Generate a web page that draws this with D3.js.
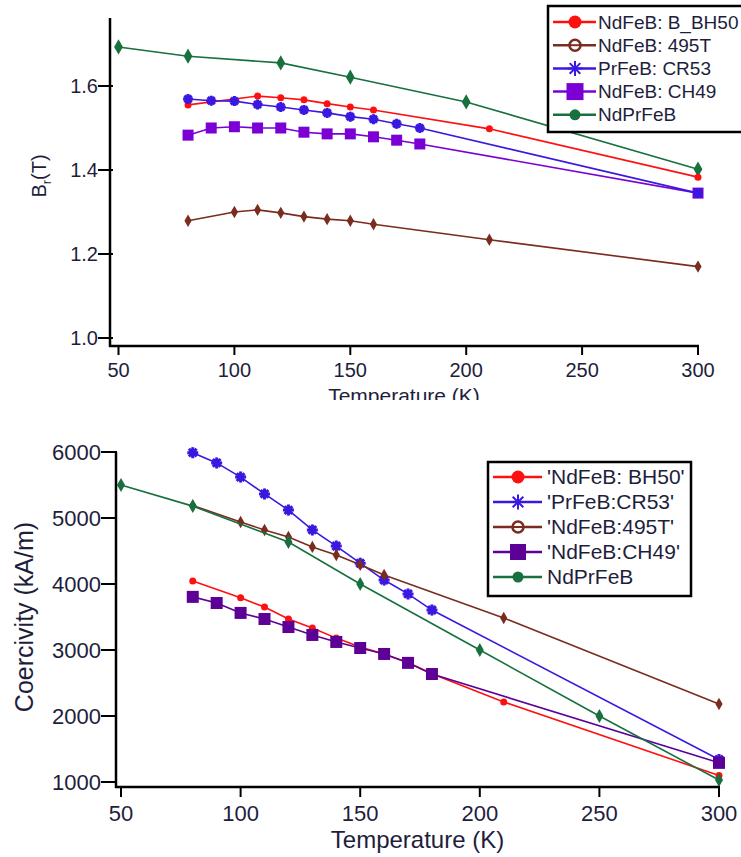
<!DOCTYPE html>
<html><head><meta charset="utf-8">
<script src="https://cdn.jsdelivr.net/npm/d3@7"></script>
<style>
html,body{margin:0;padding:0;background:#fff;}
svg{display:block;font-family:"Liberation Sans",Arial,sans-serif;}
</style></head>
<body><svg id="c" width="741" height="857"></svg>
<script>
// ---------------- DATA: top panel (remanence Br, T) ----------------
const topXTicks = [50,100,150,200,250,300];
const topYTicks = [1.0,1.2,1.4,1.6];
const topLegend = ["NdFeB: B_BH50","NdFeB: 495T","PrFeB: CR53","NdFeB: CH49","NdPrFeB"];

const tBH50 = [80,110,120,130,140,150,160,210,300];
const brBH50 = [1.555,1.576,1.572,1.567,1.558,1.550,1.543,1.498,1.383];
const t495T = [80,100,110,120,130,140,150,160,210,300];
const br495T = [1.279,1.300,1.305,1.298,1.289,1.283,1.279,1.271,1.234,1.170];
const tCR53 = [80,90,100,110,120,130,140,150,160,170,180,300];
const brCR53 = [1.569,1.565,1.564,1.556,1.550,1.543,1.536,1.527,1.521,1.510,1.500,1.345];
const tCH49 = [80,90,100,110,120,130,140,150,160,170,180,300];
const brCH49 = [1.483,1.500,1.503,1.500,1.500,1.490,1.486,1.486,1.479,1.471,1.462,1.345];
const tNdPr = [50,80,120,150,200,300];
const brNdPr = [1.693,1.671,1.655,1.621,1.562,1.402];

// ---------------- DATA: bottom panel (coercivity, kA/m) ----------------
const botXTicks = [50,100,150,200,250,300];
const botYTicks = [1000,2000,3000,4000,5000,6000];
const botLegend = ["'NdFeB: BH50'","'PrFeB:CR53'","'NdFeB:495T'","'NdFeB:CH49'","NdPrFeB"];

const hBH50T = [80,100,110,120,130,140,150,160,170,180,210,300];
const hBH50 = [4045,3790,3650,3470,3335,3180,3045,2940,2810,2640,2212,1100];
const hCR53T = [80,90,100,110,120,130,140,150,160,170,180,300];
const hCR53 = [5990,5835,5620,5365,5120,4820,4575,4315,4060,3850,3605,1340];
const h495TT = [80,100,110,120,130,140,150,160,210,300];
const h495T = [5190,4940,4818,4712,4562,4440,4290,4136,3485,2182];
const hCH49T = [80,90,100,110,120,130,140,150,160,170,180,300];
const hCH49 = [3805,3712,3562,3470,3348,3228,3122,3030,2940,2805,2636,1290];
const hNdPrT = [50,80,120,150,200,250,300];
const hNdPr = [5500,5180,4636,4000,3000,2000,1030];

// ---------------- styles ----------------
const C = {red:"#ff1010", brown:"#7a2c1e", blue:"#3b18e0", purpleTop:"#7b00d4", purpleBot:"#5c0096", green:"#18703e"};
const TXT = "#1e1e3c";

const svg = d3.select("#c");

function asteriskPath(s){
  const r=s/2, d=r*0.707;
  return `M${-r},0L${r},0M0,${-r}L0,${r}M${-d},${-d}L${d},${d}M${-d},${d}L${d},${-d}`;
}
function drawMarker(g, type, color, x, y, size, legend){
  if(type==="circle"){
    g.append("circle").attr("cx",x).attr("cy",y).attr("r",size/2).attr("fill",color);
  } else if(type==="ocircle"){
    g.append("circle").attr("cx",x).attr("cy",y).attr("r",size/2).attr("fill","#fff").attr("stroke",color).attr("stroke-width",2.5);
    g.append("line").attr("x1",x-size/2).attr("x2",x+size/2).attr("y1",y).attr("y2",y).attr("stroke",color).attr("stroke-width",2);
  } else if(type==="diamond"){
    g.append("path").attr("transform",`translate(${x},${y})`).attr("d",d3.symbol(d3.symbolDiamond, size*size*0.55)()).attr("fill",color);
  } else if(type==="square"){
    g.append("rect").attr("x",x-size/2).attr("y",y-size/2).attr("width",size).attr("height",size).attr("fill",color);
  } else if(type==="asterisk"){
    g.append("path").attr("transform",`translate(${x},${y})`).attr("d",asteriskPath(size)).attr("stroke",color).attr("stroke-width",legend?2:3).attr("fill","none");
    if(!legend) g.append("path").attr("transform",`translate(${x},${y})`).attr("d",d3.symbol(d3.symbolDiamond, size*size*0.3)()).attr("fill",color);
  }
}

function series(g, xs, ys, X, Y, color, type, size){
  const pts = xs.map((t,i)=>[X(t),Y(ys[i])]);
  g.append("path").attr("d",d3.line()(pts)).attr("fill","none").attr("stroke",color).attr("stroke-width",1.6);
  pts.forEach(p=>drawMarker(g,type,color,p[0],p[1],size,false));
}

// ================= TOP PANEL =================
{
  const clipId="clipTop";
  svg.append("defs").append("clipPath").attr("id",clipId).append("rect").attr("x",0).attr("y",0).attr("width",741).attr("height",400);
  const g = svg.append("g").attr("clip-path",`url(#${clipId})`);
  const X = d3.scaleLinear().domain([50,300]).range([118.5,698]);
  const Y = d3.scaleLinear().domain([1.0,1.6]).range([338,86]);
  const x0 = 110, yb = 346, yt = 18;

  series(g,t495T,br495T,X,Y,C.brown,"diamond",9);
  series(g,tNdPr,brNdPr,X,Y,C.green,"diamond",11);
  series(g,tBH50,brBH50,X,Y,C.red,"circle",7);
  series(g,tCH49,brCH49,X,Y,C.purpleTop,"square",11);
  series(g,tCR53,brCR53,X,Y,C.blue,"asterisk",10);

  // axes
  g.append("line").attr("x1",x0).attr("x2",x0).attr("y1",yt).attr("y2",yb+1).attr("stroke","#000").attr("stroke-width",2.5);
  g.append("line").attr("x1",x0-1).attr("x2",X(300)+1).attr("y1",yb).attr("y2",yb).attr("stroke","#000").attr("stroke-width",2.5);
  topYTicks.forEach(v=>{
    g.append("line").attr("x1",x0-12).attr("x2",x0+3).attr("y1",Y(v)).attr("y2",Y(v)).attr("stroke","#000").attr("stroke-width",2);
    g.append("text").attr("x",x0-12).attr("y",Y(v)).attr("dy","0.35em").attr("text-anchor","end").attr("font-size",20).attr("fill",TXT).text(d3.format(".1f")(v));
  });
  topXTicks.forEach(v=>{
    g.append("line").attr("x1",X(v)).attr("x2",X(v)).attr("y1",yb).attr("y2",yb+9).attr("stroke","#000").attr("stroke-width",2);
    g.append("text").attr("x",X(v)).attr("y",yb+31).attr("text-anchor","middle").attr("font-size",20).attr("fill",TXT).text(v);
  });
  g.append("text").attr("x",(x0+X(300))/2).attr("y",yb+57).attr("text-anchor","middle").attr("font-size",21).attr("fill",TXT).text("Temperature (K)");
  const yl = g.append("text").attr("transform","translate(46,176) rotate(-90)").attr("text-anchor","middle").attr("font-size",20).attr("fill",TXT);
  yl.append("tspan").text("B");
  yl.append("tspan").attr("font-size",13).attr("dy",5).text("r");
  yl.append("tspan").attr("dy",-5).text("(T)");

  // legend
  const lg = g.append("g");
  lg.append("rect").attr("x",548).attr("y",6).attr("width",210).attr("height",126).attr("fill","#fff").attr("stroke","#000").attr("stroke-width",2.5);
  const lt = [["circle",C.red,13],["ocircle",C.brown,11],["asterisk",C.blue,15],["square",C.purpleTop,17],["circle",C.green,11]];
  topLegend.forEach((name,i)=>{
    const y = 22 + i*23.2;
    lg.append("line").attr("x1",553).attr("x2",596).attr("y1",y).attr("y2",y).attr("stroke",lt[i][1]).attr("stroke-width",2.5);
    drawMarker(lg,lt[i][0],lt[i][1],575,y,lt[i][2],true);
    lg.append("text").attr("x",598).attr("y",y).attr("dy","0.35em").attr("font-size",19).attr("fill",TXT).text(name);
  });
}

// ================= BOTTOM PANEL =================
{
  const g = svg.append("g");
  const X = d3.scaleLinear().domain([50,300]).range([121,719]);
  const Y = d3.scaleLinear().domain([1000,6000]).range([782,452]);
  const x0 = 116, yb = 787, yt = 452;

  series(g,hBH50T,hBH50,X,Y,C.red,"circle",7);
  series(g,hCR53T,hCR53,X,Y,C.blue,"asterisk",11);
  series(g,h495TT,h495T,X,Y,C.brown,"diamond",9);
  series(g,hCH49T,hCH49,X,Y,C.purpleBot,"square",12);
  series(g,hNdPrT,hNdPr,X,Y,C.green,"diamond",10);

  g.append("line").attr("x1",x0).attr("x2",x0).attr("y1",yt).attr("y2",yb+1).attr("stroke","#000").attr("stroke-width",2.5);
  g.append("line").attr("x1",x0-1).attr("x2",X(300)+1).attr("y1",yb).attr("y2",yb).attr("stroke","#000").attr("stroke-width",2.5);
  botYTicks.forEach(v=>{
    g.append("line").attr("x1",x0-15).attr("x2",x0+1).attr("y1",Y(v)).attr("y2",Y(v)).attr("stroke","#000").attr("stroke-width",2);
    g.append("text").attr("x",x0-15).attr("y",Y(v)).attr("dy","0.35em").attr("text-anchor","end").attr("font-size",22).attr("fill",TXT).text(v);
  });
  botXTicks.forEach(v=>{
    g.append("line").attr("x1",X(v)).attr("x2",X(v)).attr("y1",yb).attr("y2",yb+10).attr("stroke","#000").attr("stroke-width",2);
    g.append("text").attr("x",X(v)).attr("y",yb+34).attr("text-anchor","middle").attr("font-size",22).attr("fill",TXT).text(v);
  });
  g.append("text").attr("x",(x0+X(300))/2).attr("y",yb+61).attr("text-anchor","middle").attr("font-size",24).attr("fill",TXT).text("Temperature (K)");
  g.append("text").attr("transform","translate(33,617) rotate(-90)").attr("text-anchor","middle").attr("font-size",25).attr("fill",TXT).text("Coercivity (kA/m)");

  const lg = g.append("g");
  lg.append("rect").attr("x",488).attr("y",462).attr("width",203).attr("height",134).attr("fill","#fff").attr("stroke","#000").attr("stroke-width",2.5);
  const lt = [["circle",C.red,13],["asterisk",C.blue,15],["ocircle",C.brown,11],["square",C.purpleBot,16],["circle",C.green,11]];
  botLegend.forEach((name,i)=>{
    const y = 477 + i*25;
    lg.append("line").attr("x1",493).attr("x2",542).attr("y1",y).attr("y2",y).attr("stroke",lt[i][1]).attr("stroke-width",2.5);
    drawMarker(lg,lt[i][0],lt[i][1],518,y,lt[i][2],true);
    lg.append("text").attr("x",547).attr("y",y).attr("dy","0.35em").attr("font-size",21).attr("fill",TXT).text(name);
  });
}
</script></body></html>
